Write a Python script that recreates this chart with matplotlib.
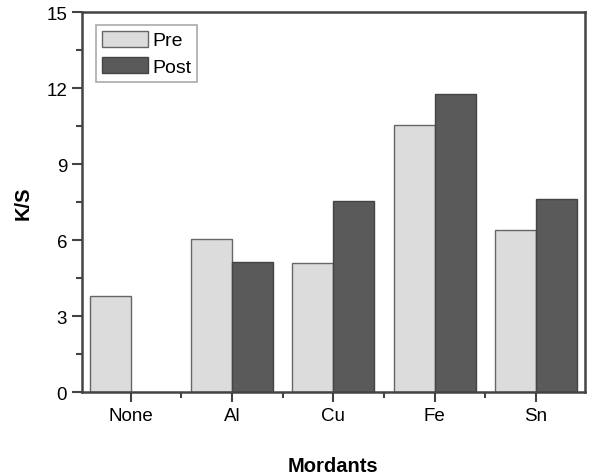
import numpy as np
import matplotlib
matplotlib.use("Agg")
import matplotlib.pyplot as plt

plt.rcParams['font.family'] = ['Liberation Sans', 'DejaVu Sans']

# data
mordants = ["None", "Al", "Cu", "Fe", "Sn"]
pre = [3.79, 6.05, 5.12, 10.55, 6.41]
post = [0.0, 5.13, 7.54, 11.78, 7.62]

fig = plt.figure(figsize=(5.92, 4.77), dpi=100)
ax = fig.add_axes([0.138, 0.1755, 0.850, 0.7966])

x = np.arange(len(mordants))
w = 0.405
ax.bar(x - w / 2, pre, w, color="#dcdcdc", edgecolor="#666666", linewidth=1.0, label="Pre")
ax.bar(x[1:] + w / 2, post[1:], w, color="#5a5a5a", edgecolor="#444444", linewidth=1.0, label="Post")

ax.set_xlim(-0.485, 4.485)
ax.set_ylim(0, 15)
ax.set_yticks([0, 3, 6, 9, 12, 15])
ax.set_yticks(np.arange(1.5, 15, 3), minor=True)
ax.set_xticks(x)
ax.set_xticklabels(mordants)
ax.set_xticks(x[:-1] + 0.5, minor=True)

for s in ax.spines.values():
    s.set_linewidth(1.8)
    s.set_color("#444444")
ax.tick_params(which="major", direction="out", length=7, width=1.5, color="#444444",
               labelsize=13.5, pad=3.5)
ax.tick_params(which="minor", direction="out", length=4, width=1.5, color="#444444")

ax.set_xlabel("Mordants", fontsize=14.5, fontweight="bold", labelpad=23)
ax.set_ylabel("K/S", fontsize=14.5, fontweight="bold", labelpad=10)

leg = ax.legend(loc="upper left", bbox_to_anchor=(0.028, 0.967), borderaxespad=0,
                fontsize=14, fancybox=False, handlelength=2.4, handleheight=0.9,
                handletextpad=0.2, labelspacing=0.4, borderpad=0.3, framealpha=1)
leg.get_frame().set_edgecolor("#aaaaaa")
leg.get_frame().set_linewidth(1.2)

fig.savefig("out.png", dpi=100)
